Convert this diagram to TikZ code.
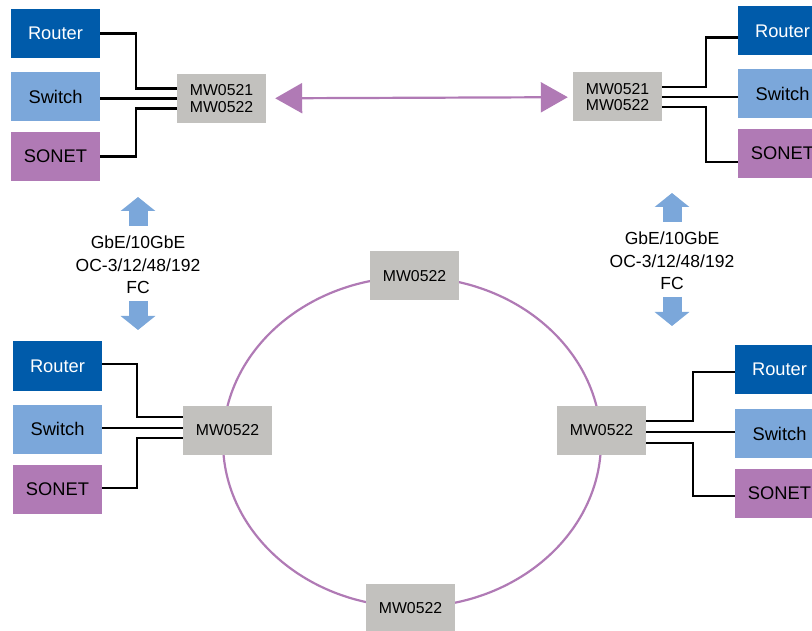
\documentclass[tikz,border=0pt]{standalone}
\usepackage{fontspec}
\setmainfont{Liberation Sans}
\usetikzlibrary{arrows.meta}
\usetikzlibrary{positioning}

\definecolor{routerblue}{HTML}{005BAA}
\definecolor{switchblue}{HTML}{7BA7DA}
\definecolor{sonetpurple}{HTML}{B07AB5}
\definecolor{muxgray}{HTML}{C2C1BE}

\begin{document}
\begin{tikzpicture}[x=1pt,y=-1pt,
    box/.style={rectangle,minimum width=89pt,minimum height=49pt,inner sep=0pt,
                font=\fontsize{18.3}{21}\selectfont},
    routerbox/.style={box,fill=routerblue,text=white},
    switchbox/.style={box,fill=switchblue},
    sonetbox/.style={box,fill=sonetpurple},
    muxbox/.style={box,fill=muxgray,align=center,font=\fontsize{15.8}{16.5}\selectfont},
    wire/.style={draw=black,line width=2.5pt},
    ratetext/.style={align=center,inner sep=0pt,font=\fontsize{17.5}{22.5}\selectfont},
    fatarrow/.style={draw=switchblue,line width=19pt,-{Triangle[length=14pt,width=34pt]}},
    ring/.style={draw=sonetpurple,line width=2.2pt}]

  \useasboundingbox (0,0) rectangle (812,631);
  \clip (0,0) rectangle (812,631);

  % ring
  \draw[ring] (412,442) ellipse [x radius=189pt,y radius=165pt];

  % top left
  \node[routerbox] (rA) at (55.5,33.5) {Router};
  \node[switchbox] (sA) at (55.5,96.5) {Switch};
  \node[sonetbox] (nA) at (55.5,156.5) {SONET};
  \node[muxbox] (mA) at (221.5,98.5) {MW0521\\MW0522};

  % top right
  \node[muxbox] (mB) at (617.5,97) {MW0521\\MW0522};
  \node[routerbox] (rB) at (782.5,31) {Router};
  \node[switchbox] (sB) at (782.5,93.5) {Switch};
  \node[sonetbox] (nB) at (782.5,153.5) {SONET};

  % bottom left
  \node[routerbox] (rC) at (57.5,366) {Router};
  \node[switchbox] (sC) at (57.5,429) {Switch};
  \node[sonetbox] (nC) at (57.5,489) {SONET};
  \node[muxbox] (mC) at (227.5,430) {MW0522};

  % bottom right
  \node[muxbox] (mD) at (601.5,430) {MW0522};
  \node[routerbox] (rD) at (779.5,369.5) {Router};
  \node[switchbox] (sD) at (779.5,433.5) {Switch};
  \node[sonetbox] (nD) at (779.5,493.5) {SONET};

  % ring nodes
  \node[muxbox] (mE) at (414.5,276) {MW0522};
  \node[muxbox] (mF) at (410.5,608) {MW0522};

  % tributaries
  \draw[wire] (rA.east) -- ++(36,0) |- ([yshift=10pt]mA.west);
  \draw[wire] (sA.east |- mA.west) -- (mA.west);
  \draw[wire] (nA.east) -- ++(36,0) |- ([yshift=-10pt]mA.west);

  \draw[wire] ([yshift=10pt]mB.east) -- ++(44,0) |- ([yshift=-6.5pt]rB.west);
  \draw[wire] (mB.east) -- (mB.east -| sB.west);
  \draw[wire] ([yshift=-10pt]mB.east) -- ++(44,0) |- ([yshift=-8.5pt]nB.west);

  \draw[wire] ([yshift=2pt]rC.east) -- ++(35,0) |- ([yshift=13pt]mC.west);
  \draw[wire] ([yshift=2pt]mC.west -| sC.east) -- ([yshift=2pt]mC.west);
  \draw[wire] ([yshift=1pt]nC.east) -- ++(35,0) |- ([yshift=-8pt]mC.west);

  \draw[wire] ([yshift=9pt]mD.east) -- ++(47,0) |- ([yshift=-2.5pt]rD.west);
  \draw[wire] ([yshift=-2pt]mD.east) -- ([yshift=-2pt]mD.east -| sD.west);
  \draw[wire] ([yshift=-13pt]mD.east) -- ++(47,0) |- ([yshift=-2.5pt]nD.west);

  % link between the two top nodes
  \draw[ring,{Triangle[length=27pt,width=30pt]}-{Triangle[length=27pt,width=30pt]},
        shorten <=9pt,shorten >=5pt] (mA) -- (mB);

  % rates
  \node[ratetext] (lA) at (138,265) {GbE/10GbE\\OC-3/12/48/192\\FC};
  \node[ratetext] (lB) at (672,261) {GbE/10GbE\\OC-3/12/48/192\\FC};
  \draw[fatarrow] ([yshift=39pt]lA.center) -- ++(0,-29);
  \draw[fatarrow] ([yshift=-36pt]lA.center) -- ++(0,29);
  \draw[fatarrow] ([yshift=39pt]lB.center) -- ++(0,-29);
  \draw[fatarrow] ([yshift=-36pt]lB.center) -- ++(0,29);
\end{tikzpicture}
\end{document}
